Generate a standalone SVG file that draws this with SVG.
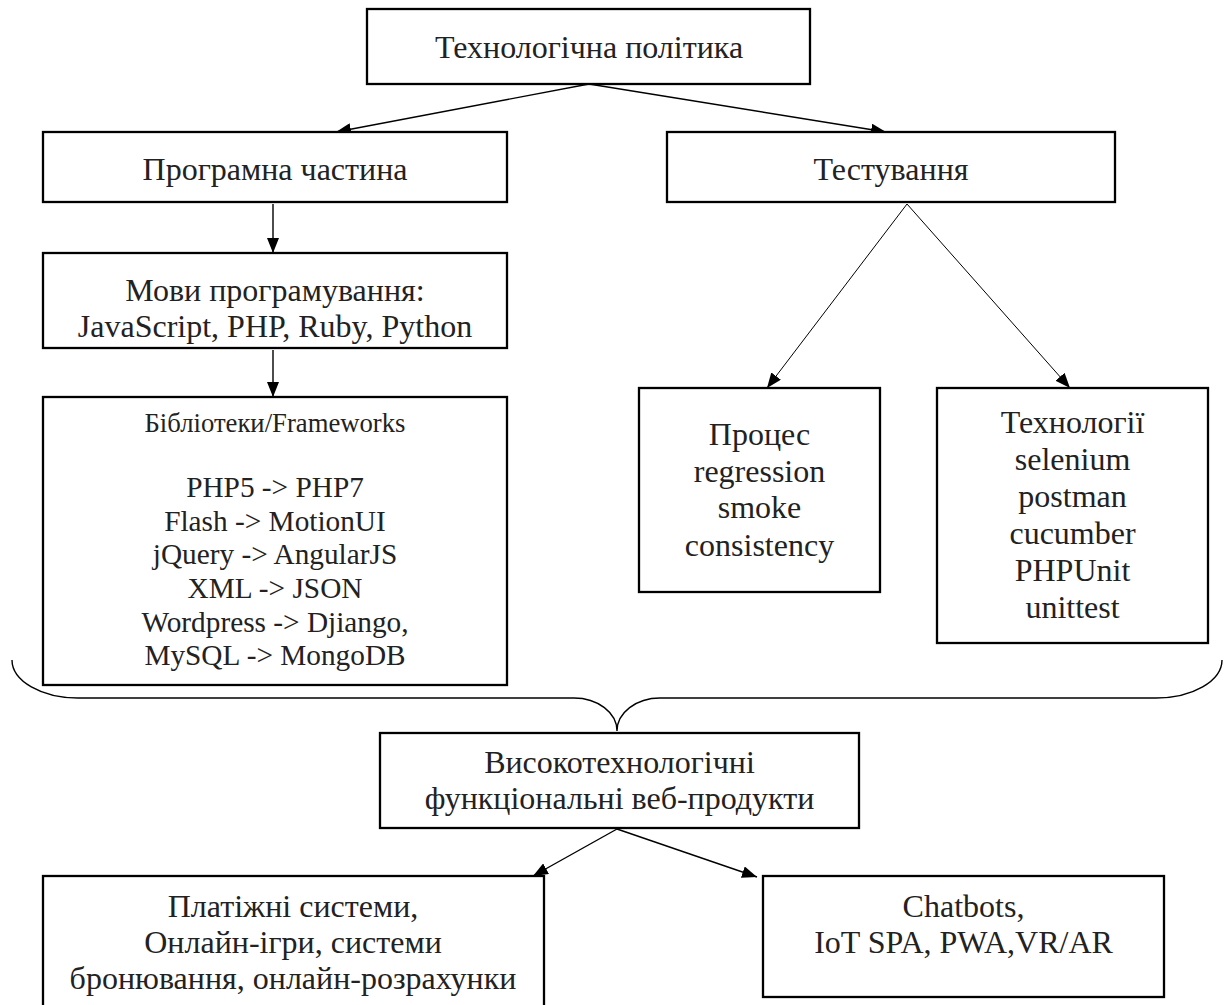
<svg xmlns="http://www.w3.org/2000/svg" width="1224" height="1005" viewBox="0 0 1224 1005">
<defs>
<marker id="ah" markerWidth="15" markerHeight="12" refX="15" refY="6" orient="auto" markerUnits="userSpaceOnUse"><path d="M0,0 L15,6 L0,12 z" fill="#000"/></marker>
</defs>
<style>
.box{fill:#fff;stroke:#000;stroke-width:2.3}
.t{font-family:"Liberation Serif","Times New Roman",serif;font-size:32px;fill:#222;text-anchor:middle}
.s{font-size:26.7px}
.m{font-size:29.3px}
.c{fill:none;stroke:#000;stroke-width:1.4}
.thin{stroke-width:1}
</style>
<rect width="1224" height="1005" fill="#fff"/>
<g id="connectors">
<line class="c" x1="589" y1="84" x2="336" y2="132" marker-end="url(#ah)"/>
<line class="c" x1="589" y1="84" x2="886" y2="132" marker-end="url(#ah)"/>
<line class="c" x1="273" y1="204" x2="273" y2="253" marker-end="url(#ah)"/>
<line class="c" x1="273" y1="350" x2="273" y2="397" marker-end="url(#ah)"/>
<line class="c thin" x1="907" y1="204" x2="767" y2="388" marker-end="url(#ah)"/>
<line class="c thin" x1="907" y1="204" x2="1070" y2="388" marker-end="url(#ah)"/>
<line class="c" x1="617" y1="829" x2="533" y2="876" marker-end="url(#ah)"/>
<line class="c" x1="617" y1="829" x2="757" y2="877" marker-end="url(#ah)"/>
<path id="brace" class="c" d="M12,660 A66 38 0 0 0 78,698 L574,698 A43 33 0 0 1 617,731 A43 33 0 0 1 660,698 L1156,698 A66 38 0 0 0 1222,660"/>
</g>
<g id="n-top">
<rect class="box" x="367" y="9" width="443" height="75"/>
<text class="t" x="589" y="58">Технологічна політика</text>
</g>
<g id="n-prog">
<rect class="box" x="43" y="132" width="464" height="70"/>
<text class="t" x="275" y="180">Програмна частина</text>
</g>
<g id="n-test">
<rect class="box" x="667" y="132" width="448" height="70"/>
<text class="t" x="891" y="180">Тестування</text>
</g>
<g id="n-lang">
<rect class="box" x="43" y="253" width="464" height="95"/>
<text class="t" x="275" y="301">Мови програмування:</text>
<text class="t" x="275" y="337">JavaScript, PHP, Ruby, Python</text>
</g>
<g id="n-lib">
<rect class="box" x="43" y="397" width="464" height="288"/>
<text class="t s" x="275" y="432">Бібліотеки/Frameworks</text>
<text class="t m" x="275" y="497">PHP5 -&gt; PHP7</text>
<text class="t m" x="275" y="531">Flash -&gt; MotionUI</text>
<text class="t m" x="275" y="564">jQuery -&gt; AngularJS</text>
<text class="t m" x="275" y="598">XML -&gt; JSON</text>
<text class="t m" x="275" y="632">Wordpress -&gt; Djiango,</text>
<text class="t m" x="275" y="665">MySQL -&gt; MongoDB</text>
</g>
<g id="n-process">
<rect class="box" x="639" y="388" width="241" height="204"/>
<text class="t" x="759.5" y="445">Процес</text>
<text class="t" x="759.5" y="482">regression</text>
<text class="t" x="759.5" y="518">smoke</text>
<text class="t" x="759.5" y="556">consistency</text>
</g>
<g id="n-tech">
<rect class="box" x="937" y="388" width="271" height="255"/>
<text class="t" x="1072.5" y="433">Технології</text>
<text class="t" x="1072.5" y="470">selenium</text>
<text class="t" x="1072.5" y="507">postman</text>
<text class="t" x="1072.5" y="544">cucumber</text>
<text class="t" x="1072.5" y="581">PHPUnit</text>
<text class="t" x="1072.5" y="618">unittest</text>
</g>
<g id="n-hitech">
<rect class="box" x="380" y="733" width="479" height="95"/>
<text class="t" x="619.5" y="773">Високотехнологічні</text>
<text class="t" x="619.5" y="809">функціональні веб-продукти</text>
</g>
<g id="n-pay">
<rect class="box" x="43" y="876" width="501" height="140"/>
<text class="t" x="293" y="917">Платіжні системи,</text>
<text class="t" x="293" y="953">Онлайн-ігри, системи</text>
<text class="t" x="293" y="989">бронювання, онлайн-розрахунки</text>
</g>
<g id="n-chat">
<rect class="box" x="763" y="876" width="401" height="121"/>
<text class="t" x="963.5" y="917">Chatbots,</text>
<text class="t" x="963.5" y="953">IoT SPA, PWA,VR/AR</text>
</g>
</svg>
